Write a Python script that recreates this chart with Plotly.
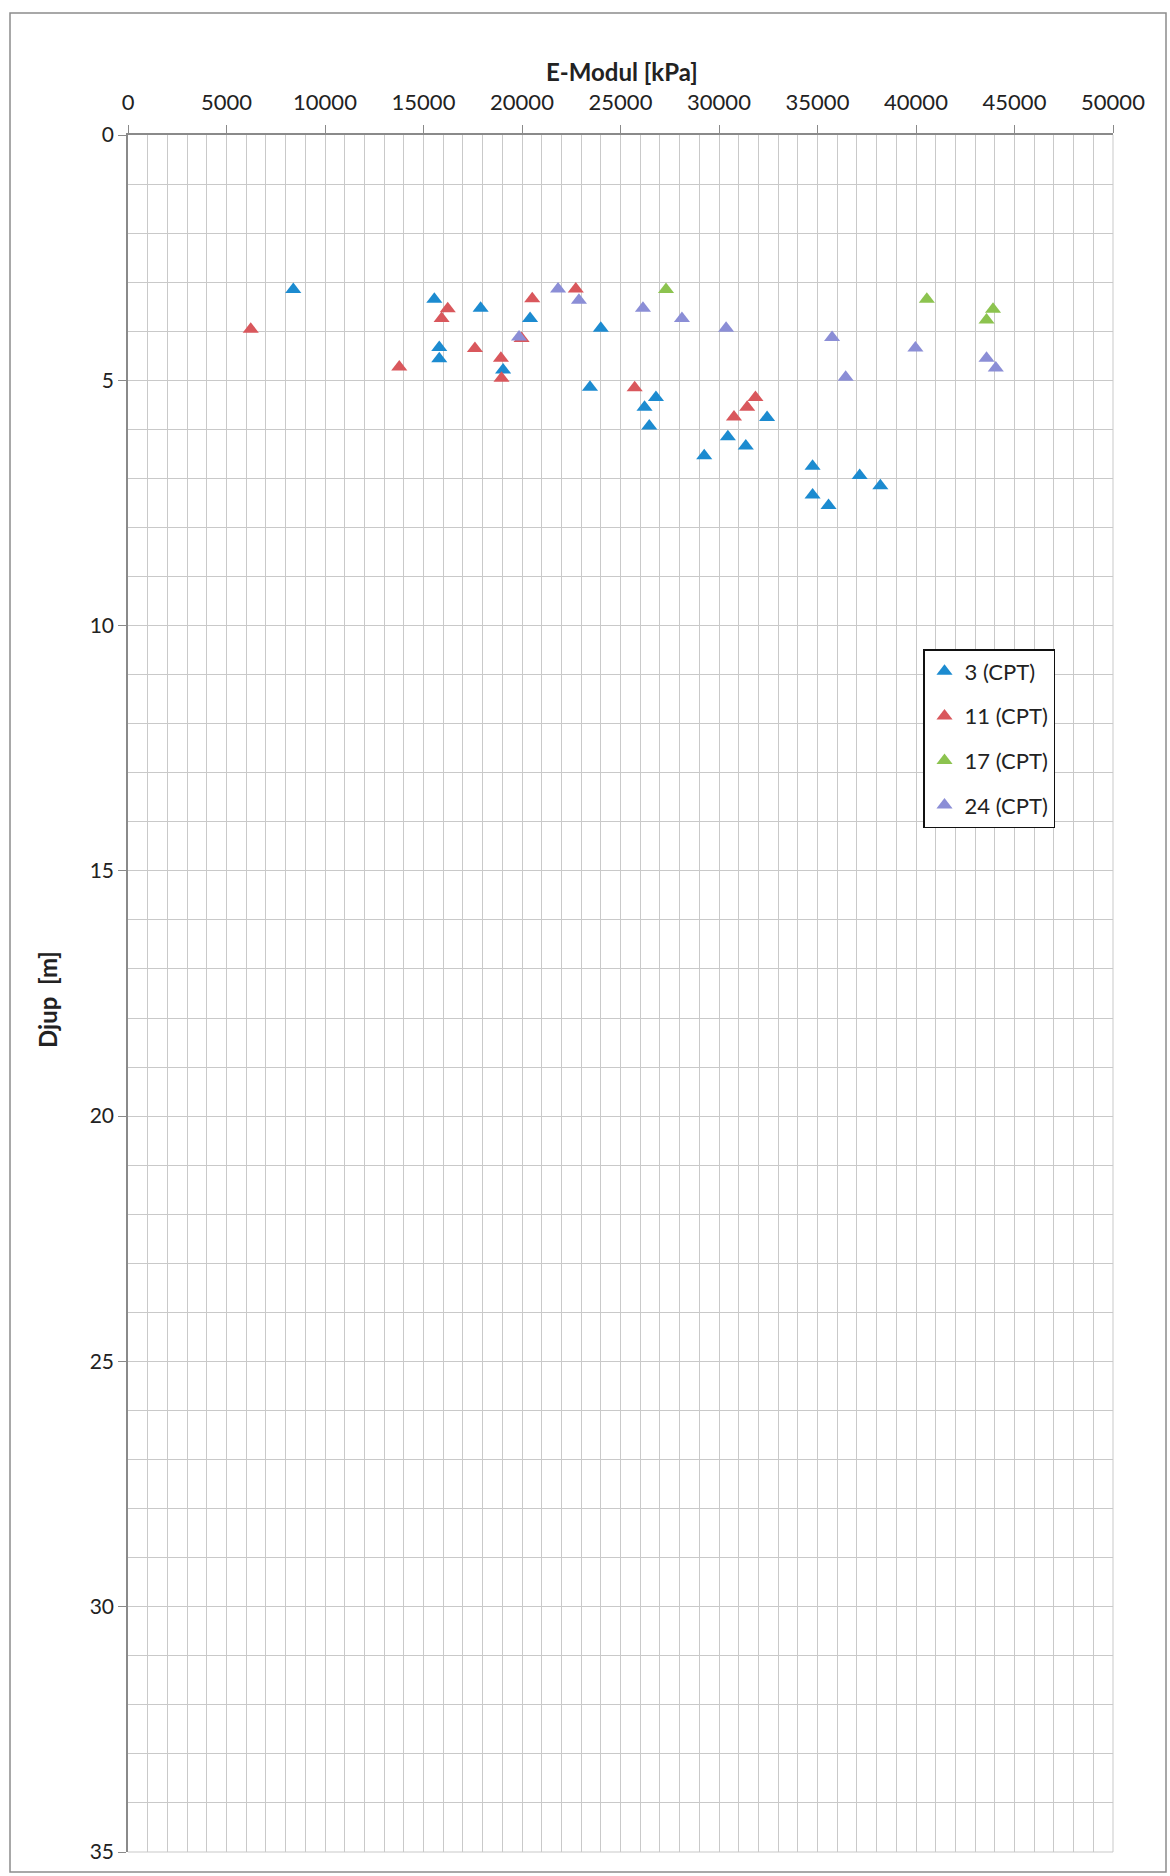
import plotly.graph_objects as go

# E-modulus [kPa] and depth [m] for each CPT sounding
cpt3_e = [8390, 15550, 17900, 20410, 15800, 15800, 19040, 24000, 23450, 26800, 26220,
          26460, 32440, 30450, 31360, 29250, 34750, 37140, 38190, 34750, 35560]
cpt3_d = [3.15, 3.35, 3.53, 3.74, 4.33, 4.56, 4.79, 3.94, 5.14, 5.35, 5.55,
          5.93, 5.76, 6.15, 6.34, 6.54, 6.75, 6.94, 7.15, 7.34, 7.55]

cpt11_e = [6230, 16230, 15920, 20520, 19980, 17610, 13770, 18930, 18960, 22730,
           25720, 31850, 31430, 30760]
cpt11_d = [3.96, 3.54, 3.74, 3.34, 4.15, 4.35, 4.73, 4.55, 4.96, 3.14,
           5.15, 5.35, 5.55, 5.75]

cpt17_e = [27310, 40550, 43910, 43580]
cpt17_d = [3.15, 3.35, 3.55, 3.77]

cpt24_e = [21830, 22890, 26140, 28120, 30360, 35740, 39970, 43580, 44050, 36430, 19850]
cpt24_d = [3.14, 3.37, 3.53, 3.74, 3.94, 4.13, 4.34, 4.55, 4.75, 4.94, 4.12]

series_names = ["3 (CPT)", "11 (CPT)", "17 (CPT)", "24 (CPT)"]
series_colors = ["#1c8bd0", "#d9575c", "#8cc34f", "#8b8ed6"]

FONT = "Lato, 'Open Sans', sans-serif"
GRID = "#c9c9c9"
AXIS = "#8a8a8a"
TEXT = "#222222"

fig = go.Figure()
for name, color, xs, ys in zip(series_names, series_colors,
                               [cpt3_e, cpt11_e, cpt17_e, cpt24_e],
                               [cpt3_d, cpt11_d, cpt17_d, cpt24_d]):
    fig.add_trace(go.Scatter(
        x=xs, y=ys, mode="markers", name=name, legendgroup=name,
        marker=dict(symbol="triangle-up", size=14, color=color,
                    line=dict(width=0)),
    ))

# plot-area geometry in pixels (used to place frame/labels in paper units)
W, H = 1170, 1876
L, R, T, B = 128, 57, 135, 24
pw, ph = W - L - R, H - T - B


def px_x(p):
    return (p - L) / pw


def px_y(p):
    return (H - B - p) / ph


fig.update_layout(
    width=W, height=H,
    margin=dict(l=L, r=R, t=T, b=B),
    paper_bgcolor="white", plot_bgcolor="white",
    font=dict(family=FONT, size=20, color=TEXT),
    showlegend=True,
    legend=dict(
        x=px_x(923), y=px_y(649), xanchor="left", yanchor="top",
        bgcolor="white", bordercolor="#111111", borderwidth=1.5,
        font=dict(family=FONT, size=22, color=TEXT),
        tracegroupgap=13, itemwidth=30,
    ),
    xaxis=dict(
        side="top", range=[0, 50000], dtick=5000, tick0=0, tickformat="d",
        showgrid=True, gridcolor=GRID, gridwidth=1,
        minor=dict(dtick=1000, showgrid=True, gridcolor=GRID, gridwidth=1),
        showline=True, linecolor=AXIS, linewidth=1.5,
        ticks="outside", ticklen=8, tickcolor=AXIS, tickwidth=1.2,
        ticklabelstandoff=6, zeroline=False,
        tickfont=dict(family=FONT, size=22, color=TEXT),
    ),
    yaxis=dict(
        range=[35, 0], dtick=5, tick0=0,
        showgrid=True, gridcolor=GRID, gridwidth=1,
        minor=dict(dtick=1, showgrid=True, gridcolor=GRID, gridwidth=1),
        showline=True, linecolor=AXIS, linewidth=1.5,
        ticks="outside", ticklen=8, tickcolor=AXIS, tickwidth=1.2,
        ticklabelstandoff=0, zeroline=False,
        tickfont=dict(family=FONT, size=21, color=TEXT),
    ),
    shapes=[
        # outer chart frame
        dict(type="rect", xref="paper", yref="paper",
             x0=px_x(10), x1=px_x(1166), y0=px_y(1872), y1=px_y(13),
             line=dict(color="#8c8c8c", width=1.5), layer="below"),
        # right and bottom edges of the plot area
        dict(type="line", xref="paper", yref="paper", x0=1, x1=1, y0=0, y1=1,
             line=dict(color=GRID, width=1)),
        dict(type="line", xref="paper", yref="paper", x0=0, x1=1, y0=0, y1=0,
             line=dict(color=GRID, width=1)),
    ],
    annotations=[
        dict(text="<b>E-Modul [kPa]</b>", xref="paper", yref="paper",
             x=px_x(622), y=px_y(72), xanchor="center", yanchor="middle",
             showarrow=False, font=dict(family=FONT, size=24, color=TEXT)),
        dict(text="<b>Djup\u00a0 [m]</b>", xref="paper", yref="paper",
             x=px_x(48), y=px_y(1000), xanchor="center", yanchor="middle",
             textangle=-90, showarrow=False,
             font=dict(family=FONT, size=24, color=TEXT)),
    ],
)

fig.write_html("out.html")
